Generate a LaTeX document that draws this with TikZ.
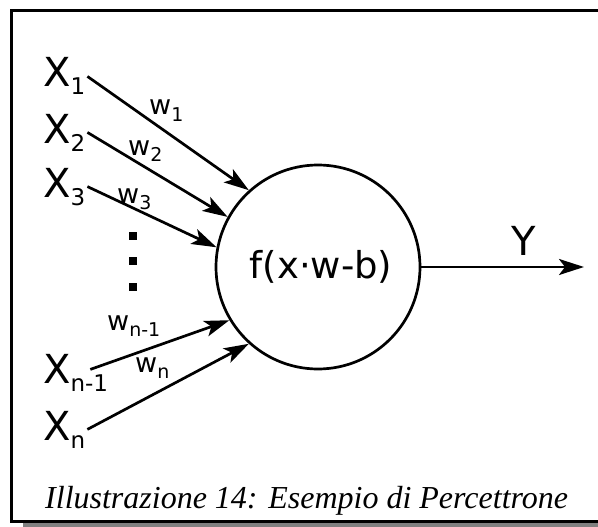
\documentclass[tikz,border=0pt]{standalone}
\usepackage{fontspec}
\setmainfont{DejaVu Sans}
\newfontfamily\capfont{Liberation Serif}
\usepackage{tikz}
\usetikzlibrary{arrows.meta}

\newcommand\xsub[1]{\raisebox{-8pt}{\fontsize{23}{23}\selectfont #1}}
\newcommand\wsub[1]{\raisebox{-6pt}{\fontsize{19}{19}\selectfont #1}}

\begin{document}
\begin{tikzpicture}[
  x=1pt, y=-1pt,
  xin/.style={anchor=base west, inner sep=2pt, font=\fontsize{40}{44}\selectfont},
  wt/.style={anchor=base west, inner sep=0pt, font=\fontsize{27}{30}\selectfont},
  neuron/.style={circle, draw, line width=2.7pt, minimum size=204pt,
                 inner sep=0pt, font=\fontsize{37}{41}\selectfont},
  lab/.style={inner sep=3pt, font=\fontsize{40}{44}\selectfont},
  arr/.style={-{Stealth[length=25pt, width=16pt, inset=6pt]}, line width=2.7pt},
  frame/.style={line width=3pt, line join=miter},
  caption/.style={anchor=base west, inner sep=0pt,
                  font=\capfont\itshape\fontsize{32}{35}\selectfont}]

\useasboundingbox (0,0) rectangle (598,527);

\draw[frame] (598,10.5) -- (11.5,10.5) -- (11.5,521) -- (598,521);
\fill[black!50] (23,523) rectangle (598,527);

\node[neuron] (f) at (318,267) {\hspace{6pt}f(x·w-b)};

\node[xin] (x1) at (41,87) {X\xsub{1}};
\node[xin] (x2) at (41,143) {X\xsub{2}};
\node[xin] (x3) at (41,197) {X\xsub{3}};
\node[xin] (xn1) at (41,383) {X\xsub{n-1}};
\node[xin] (xn) at (41,440) {X\xsub{n}};

\foreach \dy in {236,261,287}
  \fill (128.5,\dy-4) rectangle ++(8,8);

\node[wt] (w1) at (149,115) {w\wsub{1}};
\node[wt] (w2) at (128,155) {w\wsub{2}};
\node[wt] (w3) at (117,203) {w\wsub{3}};
\node[wt] (wn1) at (107,330) {w\wsub{n-1}};
\node[wt] (wn) at (135,372) {w\wsub{n}};

\coordinate (yout) at (584,267);

\draw[arr] (x1.east) -- (f.132.7);
\draw[arr] (x2.east) -- (f.151.5);
\draw[arr] (x3.east) -- (f.169);
\draw[arr] ([xshift=-20pt,yshift=3pt]xn1.east) -- (f.211);
\draw[arr] (xn.east) -- (f.228.8);
\draw[arr] (f.east) -- node[lab, above=7pt, pos=0.63] (y) {Y} (yout);

\node[caption] (cap) at (45,508) {Illustrazione 14: Esempio di Percettrone};
\end{tikzpicture}
\end{document}
